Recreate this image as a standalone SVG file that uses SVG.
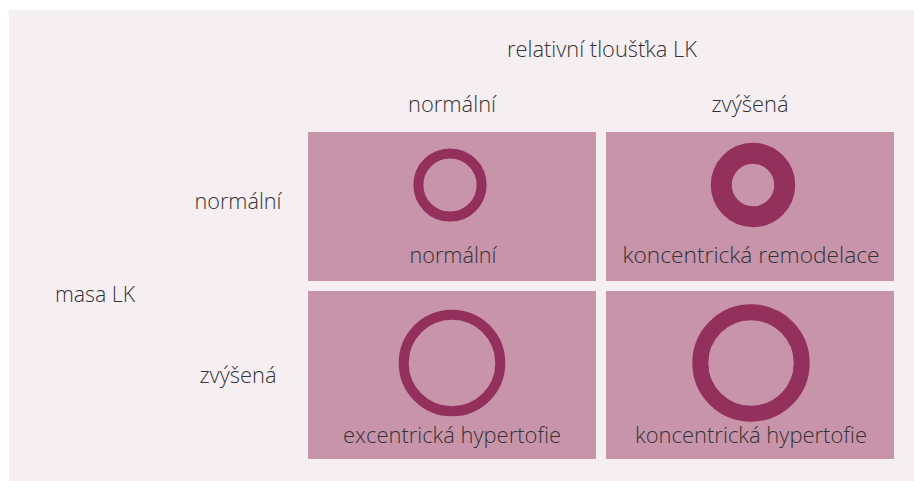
<svg xmlns="http://www.w3.org/2000/svg" width="914" height="481" viewBox="0 0 914 481">
<style>
.t{font-family:"Open Sans","Liberation Sans",sans-serif;font-weight:300;font-size:21.5px;fill:#333;}
.m{text-anchor:middle;}
.cell{fill:#C794AA;}
.ring{fill:none;stroke:#93305C;}
</style>
<rect x="0" y="0" width="914" height="481" fill="#ffffff"/>
<rect x="9" y="10" width="905" height="471" fill="#F5EFF2"/>
<g id="labels">
<text class="t m" x="602" y="57" textLength="190" lengthAdjust="spacingAndGlyphs">relativní tloušťka LK</text>
<text class="t m" x="452" y="112" textLength="88" lengthAdjust="spacingAndGlyphs">normální</text>
<text class="t m" x="750" y="112" textLength="77" lengthAdjust="spacingAndGlyphs">zvýšená</text>
<text class="t m" x="238" y="209" textLength="87" lengthAdjust="spacingAndGlyphs">normální</text>
<text class="t m" x="95" y="302" textLength="80" lengthAdjust="spacingAndGlyphs">masa LK</text>
<text class="t m" x="238" y="383" textLength="77" lengthAdjust="spacingAndGlyphs">zvýšená</text>
</g>
<g id="cell-normal">
<rect class="cell" x="308" y="132" width="288" height="149"/>
<circle class="ring" cx="450" cy="185" r="31.6" stroke-width="10"/>
<text class="t m" x="453" y="263" textLength="87" lengthAdjust="spacingAndGlyphs">normální</text>
</g>
<g id="cell-konc-remodelace">
<rect class="cell" x="606" y="132" width="288" height="149"/>
<circle class="ring" cx="753" cy="185" r="31.7" stroke-width="21"/>
<text class="t m" x="751" y="263" textLength="257" lengthAdjust="spacingAndGlyphs">koncentrická remodelace</text>
</g>
<g id="cell-exc-hypertrofie">
<rect class="cell" x="308" y="291" width="288" height="168"/>
<circle class="ring" cx="452" cy="363" r="48.3" stroke-width="10"/>
<text class="t m" x="452" y="443" textLength="218" lengthAdjust="spacingAndGlyphs">excentrická hypertofie</text>
</g>
<g id="cell-konc-hypertrofie">
<rect class="cell" x="606" y="291" width="288" height="168"/>
<circle class="ring" cx="751" cy="363" r="50.7" stroke-width="16"/>
<text class="t m" x="751" y="443" textLength="232" lengthAdjust="spacingAndGlyphs">koncentrická hypertofie</text>
</g>
<g id="connectors"/>
</svg>
